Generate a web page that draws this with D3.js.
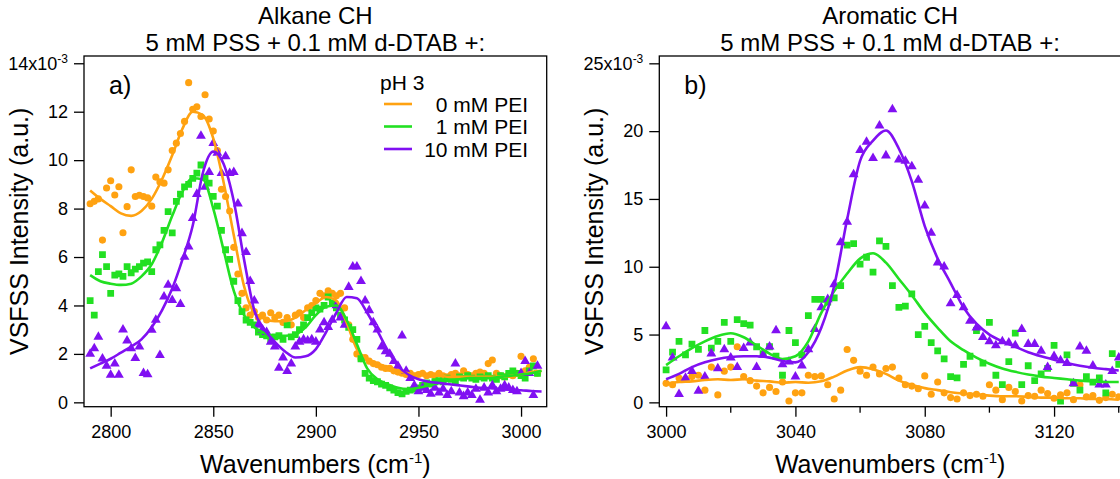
<!DOCTYPE html>
<html>
<head>
<meta charset="utf-8">
<script src="https://cdn.jsdelivr.net/npm/d3@7"></script>
<style>
    body { margin: 0; background: #fff; }
    text { font-family: Helvetica, Arial, "Liberation Sans", sans-serif; fill: #000; }
</style>
</head>
<body>
<div id="chart"></div>
<script>
// ---- panel a) alkane CH, measured points ----
const alkaneX = [
    2790, 2792, 2794, 2796, 2798, 2800, 2802, 2804, 2806, 2808,
    2810, 2812, 2814, 2816, 2818, 2820, 2822, 2824, 2826, 2828,
    2830, 2832, 2834, 2836, 2838, 2840, 2842, 2844, 2846, 2848,
    2850, 2852, 2854, 2856, 2858, 2860, 2862, 2864, 2866, 2868,
    2870, 2872, 2874, 2876, 2878, 2880, 2882, 2884, 2886, 2888,
    2890, 2892, 2894, 2896, 2898, 2900, 2902, 2904, 2906, 2908,
    2910, 2912, 2914, 2916, 2918, 2920, 2922, 2924, 2926, 2928,
    2930, 2932, 2934, 2936, 2938, 2940, 2942, 2944, 2946, 2948,
    2950, 2952, 2954, 2956, 2958, 2960, 2962, 2964, 2966, 2968,
    2970, 2972, 2974, 2976, 2978, 2980, 2982, 2984, 2986, 2988,
    2990, 2992, 2994, 2996, 2998, 3000, 3002, 3004, 3006, 3008
];
const alkane0 = [
    8.2, 8.3, 8.4, 6.7, 8.85, 9.15, 8.56, 8.9, 7.0, 8.08,
    9.6, 8.5, 8.55, 8.5, 8.44, 8.1, 9.3, 9.1, 9.05, 9.6,
    10.4, 10.7, 11.1, 11.6, 13.2, 12.1, 12.2, 11.8, 12.7, 11.7,
    11.2, 10.4, 8.8, 8.5, 7.9, 6.4, 5.3, 4.5, 3.9, 3.6,
    3.75, 3.5, 3.6, 3.4, 3.7, 3.5, 3.6, 3.3, 3.5, 3.2,
    3.6, 3.7, 3.5, 3.9, 4.0, 4.2, 4.5, 4.4, 4.6, 4.5,
    4.4, 4.5, 3.9, 3.2, 2.6, 2.0, 1.8, 1.85, 1.7, 1.6,
    1.55, 1.45, 1.4, 1.4, 1.3, 1.25, 1.2, 1.15, 1.2, 1.1,
    1.15, 1.2, 1.1, 1.15, 1.1, 1.2, 1.1, 1.05, 1.15, 1.2,
    1.1, 1.3, 1.15, 1.1, 1.2, 1.25, 1.2, 1.6, 1.75, 1.2,
    1.1, 1.05, 1.15, 1.1, 1.2, 1.9, 1.3, 1.45, 1.8, 1.2
];
const alkane1 = [
    4.2, 3.6, 5.4, 6.1, 5.6, 4.5, 5.25, 5.3, 5.2, 5.6,
    5.35, 5.5, 5.6, 5.75, 5.8, 5.4, 6.3, 6.5, 7.1, 7.87,
    7.0, 8.3, 8.6, 8.9, 9.0, 9.25, 9.46, 9.8, 9.3, 9.05,
    8.5, 8.1, 7.1, 6.3, 5.9, 5.0, 4.2, 3.75, 3.4, 3.3,
    3.2, 2.9, 2.8, 2.75, 2.6, 2.7, 2.75, 2.6, 3.2, 2.7,
    2.8, 3.0, 3.2, 3.5, 3.7, 3.9, 3.85, 4.0, 4.35, 4.1,
    3.9, 3.6, 3.4, 3.1, 3.0, 2.6, 1.8, 1.2, 1.0, 0.9,
    0.85, 0.75, 0.7, 0.6, 0.5, 0.4, 0.35, 0.45, 0.5, 0.55,
    0.6, 0.7, 0.8, 0.75, 0.85, 0.9, 0.85, 1.0, 0.95, 0.9,
    1.05, 1.0, 1.1, 1.0, 0.95, 1.05, 1.0, 1.1, 1.0, 0.95,
    1.1, 1.05, 1.2, 1.3, 1.2, 1.1, 1.0, 1.3, 1.5, 1.2
];
const alkane10 = [
    2.0, 2.23, 2.7, 1.8, 1.5, 1.13, 1.6, 1.13, 3.0, 2.55,
    2.23, 1.82, 2.3, 1.2, 1.15, 2.99, 3.4, 1.95, 4.36, 4.85,
    4.22, 4.7, 4.05, 6.0, 6.43, 7.6, 8.6, 11.0, 8.9, 9.5,
    10.7, 10.3, 9.46, 10.15, 9.46, 9.5, 8.2, 6.98, 6.2, 5.0,
    4.2, 3.2, 3.0, 2.9, 2.5, 2.3, 1.42, 1.85, 1.29, 1.6,
    2.3, 2.5, 2.6, 2.55, 2.6, 2.5, 3.0, 3.3, 3.1, 3.4,
    4.0, 3.5, 3.2, 4.76, 5.6, 5.6, 5.0, 4.2, 3.8, 3.3,
    3.0, 2.3, 2.1, 2.0, 1.7, 1.5, 2.75, 1.3, 1.0, 0.7,
    0.45, 0.6, 0.5, 0.35, 0.6, 0.4, 0.55, 0.3, 0.45, 1.6,
    0.4, 0.25, 0.4, 0.3, 0.55, 0.1, 0.6, 0.4, 0.7, 0.45,
    0.55, 0.7, 0.6, 0.5, 0.45, 1.2, 1.7, 1.2, 0.3, 1.5
];

// ---- panel a) fitted curves ----
const alkaneFitX = [
    2790, 2795, 2800, 2805, 2810, 2815, 2820, 2825, 2830, 2835,
    2840, 2845, 2850, 2855, 2860, 2865, 2870, 2875, 2880, 2885,
    2890, 2895, 2900, 2905, 2910, 2915, 2920, 2925, 2930, 2935,
    2940, 2945, 2950, 2955, 2960, 2965, 2970, 2975, 2980, 2985,
    2990, 2995, 3000, 3005, 3010
];
const alkaneFit0 = [
    8.75, 8.4, 8.1, 7.8, 7.7, 7.9, 8.4, 9.2, 10.2, 11.3,
    12.0, 11.85, 10.9, 9.1, 6.9, 4.8, 3.7, 3.45, 3.35, 3.35,
    3.5, 3.8, 4.1, 4.35, 4.2, 3.3, 2.2, 1.8, 1.6, 1.45,
    1.3, 1.2, 1.15, 1.1, 1.1, 1.05, 1.05, 1.05, 1.05, 1.05,
    1.05, 1.1, 1.15, 1.25, 1.3
];
const alkaneFit1 = [
    5.25, 5.0, 4.9, 4.85, 4.9, 5.2, 5.7, 6.6, 7.7, 8.7,
    9.25, 9.2, 8.0, 6.3, 4.6, 3.6, 3.1, 2.85, 2.75, 2.75,
    2.8, 3.1, 3.6, 3.95, 4.0, 3.4, 2.4, 1.4, 0.95, 0.75,
    0.6, 0.55, 0.6, 0.7, 0.8, 0.9, 0.95, 1.0, 1.0, 1.0,
    1.05, 1.1, 1.15, 1.2, 1.3
];
const alkaneFit10 = [
    1.4, 1.6, 1.8, 2.05, 2.3, 2.6, 3.1, 3.8, 4.7, 5.9,
    7.3, 9.5, 10.35, 9.85, 8.3, 5.9, 3.8, 3.0, 2.5, 2.1,
    1.85, 1.9, 2.2, 2.9, 3.7, 4.35, 4.3, 3.7, 2.95, 2.15,
    1.5, 1.15, 0.95, 0.85, 0.8, 0.75, 0.7, 0.65, 0.6, 0.58,
    0.55, 0.52, 0.5, 0.47, 0.45
];

// ---- panel b) aromatic CH, measured points ----
const aromaticX = [
    3000, 3002, 3004, 3006, 3008, 3010, 3012, 3014, 3016, 3018,
    3020, 3022, 3024, 3026, 3028, 3030, 3032, 3034, 3036, 3038,
    3040, 3042, 3044, 3046, 3048, 3050, 3052, 3054, 3056, 3058,
    3060, 3062, 3064, 3066, 3068, 3070, 3072, 3074, 3076, 3078,
    3080, 3082, 3084, 3086, 3088, 3090, 3092, 3094, 3096, 3098,
    3100, 3102, 3104, 3106, 3108, 3110, 3112, 3114, 3116, 3118,
    3120, 3122, 3124, 3126, 3128, 3130, 3132, 3134, 3136, 3138,
    3140
];
const aromatic0 = [
    1.4, 1.3, 1.8, 1.7, 1.9, 2.0, 0.9, 2.6, 0.55, 2.3,
    2.6, 4.1, 1.9, 1.6, 1.2, 0.7, 1.1, 0.8, 1.5, 0.1,
    0.7, 0.7, 2.0, 1.9, 1.95, 1.3, 0.25, 0.9, 3.9, 3.1,
    2.3, 2.0, 2.6, 2.1, 2.5, 2.6, 1.8, 1.3, 1.2, 1.0,
    1.95, 0.6, 1.5, 0.7, 0.35, 0.25, 0.7, 0.5, 0.6, 0.45,
    1.3, 0.9, 0.2, 1.1, 0.8, 0.1, 0.5, 0.45, 0.9, 0.65,
    0.3, 0.55, 0.7, 0.2, 1.3, 0.4, 0.5, 0.15, 0.35, 0.6,
    0.4
];
const aromatic1 = [
    2.4, 3.7, 4.5, 3.5, 4.3, 3.9, 5.3, 4.0, 4.5, 5.9,
    4.5, 6.1, 5.8, 5.7, 4.1, 3.6, 4.1, 3.4, 2.0, 5.3,
    4.4, 3.5, 6.4, 7.6, 7.6, 7.4, 7.7, 8.6, 11.6, 11.7,
    10.2, 10.7, 9.6, 11.9, 11.5, 8.6, 7.0, 7.1, 8.0, 5.0,
    5.6, 4.4, 3.8, 3.2, 1.9, 1.8, 2.8, 3.4, 5.3, 2.9,
    5.9, 2.0, 1.3, 3.0, 5.1, 1.3, 2.7, 1.6, 2.1, 2.5,
    4.2, 0.1, 3.5, 1.4, 0.9, 1.9, 1.5, 1.8, 0.7, 3.6,
    2.8
];
const aromatic10 = [
    5.6, 3.3, 0.6, 1.8, 2.3, 0.85, 1.9, 3.6, 2.5, 3.9,
    3.3, 2.6, 4.0, 4.4, 2.6, 3.5, 4.1, 5.3, 2.8, 3.0,
    1.9, 2.7, 3.9, 5.4, 7.0, 7.6, 8.7, 11.8, 13.3, 16.8,
    18.6, 19.2, 18.0, 20.4, 18.2, 21.6, 17.9, 17.8, 17.4, 16.4,
    14.5, 12.5, 10.3, 10.0, 7.3, 7.9, 7.0, 6.0, 5.5, 4.8,
    4.5, 4.2, 4.5, 4.4, 4.2, 5.4, 4.3, 4.3, 3.8, 2.6,
    3.4, 3.1, 2.9, 1.4, 4.1, 3.8, 2.7, 1.3, 1.3, 2.3,
    3.3
];

// ---- panel b) fitted curves ----
const aromaticFitX = [
    3000, 3004, 3008, 3012, 3016, 3020, 3024, 3028, 3032, 3036,
    3040, 3044, 3048, 3052, 3056, 3060, 3064, 3068, 3072, 3076,
    3080, 3084, 3088, 3092, 3096, 3100, 3104, 3108, 3112, 3116,
    3120, 3124, 3128, 3132, 3136, 3140
];
const aromaticFit0 = [
    1.4, 1.5, 1.55, 1.65, 1.7, 1.65, 1.7, 1.6, 1.55, 1.45,
    1.5, 1.45, 1.55, 1.9, 2.35, 2.6, 2.45, 2.1, 1.6, 1.3,
    1.05, 0.9, 0.75, 0.65, 0.6, 0.5, 0.45, 0.45, 0.4, 0.35,
    0.35, 0.3, 0.3, 0.25, 0.25, 0.2
];
const aromaticFit1 = [
    2.75, 3.4, 4.0, 4.5, 4.9, 5.1, 4.8, 4.2, 3.6, 3.2,
    3.4, 4.5, 6.6, 8.2, 9.5, 10.6, 11.0, 10.3, 9.1, 7.9,
    6.6, 5.5, 4.5, 3.85, 3.3, 2.85, 2.5, 2.25, 2.05, 1.9,
    1.8, 1.7, 1.6, 1.55, 1.5, 1.5
];
const aromaticFit10 = [
    1.7, 2.1, 2.6, 2.95, 3.2, 3.35, 3.4, 3.4, 3.3, 3.05,
    2.95, 3.7, 5.5, 8.6, 13.5, 17.8, 19.3, 20.05, 18.7, 16.3,
    13.0, 10.6, 8.8, 7.0, 5.8, 5.0, 4.5, 4.1, 3.7, 3.4,
    3.15, 2.9, 2.7, 2.55, 2.45, 2.35
];

const seriesNames = ['0 mM PEI', '1 mM PEI', '10 mM PEI'];
const seriesColors = ['#ffa211', '#22e022', '#8010f2'];

const alkaneXTicks = [2800, 2850, 2900, 2950, 3000];
const alkaneYTicks = [0, 2, 4, 6, 8, 10, 12, 14];
const aromaticXTicks = [3000, 3040, 3080, 3120];
const aromaticXMinor = [3020, 3060, 3100, 3140];
const aromaticYTicks = [0, 5, 10, 15, 20, 25];


class SpectrumPanel {
    constructor(svg, config) {
        this.svg = svg;
        this.config = config;
        this.initVis();
    }

    initVis() {
        let vis = this;
        let c = vis.config;

        vis.g = vis.svg.append('g').attr('class', 'panel-' + c.id);

        vis.x = d3.scaleLinear().domain(c.xDomain).range([c.left, c.right]);
        vis.y = d3.scaleLinear().domain(c.yDomain).range([c.bottom, c.top]);

        vis.g.append('clipPath')
            .attr('id', 'clip-' + c.id)
            .append('rect')
            .attr('x', c.left)
            .attr('y', c.top)
            .attr('width', c.right - c.left)
            .attr('height', c.bottom - c.top);

        // titles
        vis.g.append('text')
            .attr('x', (c.left + c.right) / 2)
            .attr('y', 24)
            .attr('text-anchor', 'middle')
            .style('font-size', '24px')
            .text(c.title);
        vis.g.append('text')
            .attr('x', (c.left + c.right) / 2)
            .attr('y', 51)
            .attr('text-anchor', 'middle')
            .style('font-size', '24px')
            .text('5 mM PSS + 0.1 mM d-DTAB +:');

        vis.drawAxes();
        vis.drawData();

        // frame
        vis.g.append('rect')
            .attr('x', c.left)
            .attr('y', c.top)
            .attr('width', c.right - c.left)
            .attr('height', c.bottom - c.top)
            .attr('fill', 'none')
            .attr('stroke', '#000')
            .attr('stroke-width', 1.3);

        vis.g.append('text')
            .attr('x', c.left + 25)
            .attr('y', 94)
            .style('font-size', '25px')
            .text(c.label);

        if (c.legend) vis.drawLegend();
    }

    drawAxes() {
        let vis = this;
        let c = vis.config;

        let xAxis = vis.g.append('g')
            .attr('transform', `translate(0,${c.bottom})`)
            .call(d3.axisBottom(vis.x).tickValues(c.xTicks).tickSize(10).tickPadding(9).tickFormat(d3.format('d')));
        xAxis.select('.domain').remove();
        xAxis.selectAll('line').attr('stroke-width', 1.3);
        xAxis.selectAll('text').style('font-size', '18px').attr('fill', '#000').style('font-family', null);

        if (c.xMinor) {
            vis.g.append('g')
                .attr('transform', `translate(0,${c.bottom})`)
                .selectAll('line')
                .data(c.xMinor)
                .enter().append('line')
                .attr('x1', d => vis.x(d))
                .attr('x2', d => vis.x(d))
                .attr('y1', 0)
                .attr('y2', 6)
                .attr('stroke', '#000')
                .attr('stroke-width', 1.3);
        }

        let yAxis = vis.g.append('g')
            .attr('transform', `translate(${c.left},0)`)
            .call(d3.axisLeft(vis.y).tickValues(c.yTicks).tickSize(10).tickPadding(6).tickFormat(d3.format('d')));
        yAxis.select('.domain').remove();
        yAxis.selectAll('line').attr('stroke-width', 1.3);
        yAxis.selectAll('text').style('font-size', '18px').attr('fill', '#000').style('font-family', null);

        // top tick carries the x10^-3 multiplier
        let top = c.yTicks[c.yTicks.length - 1];
        yAxis.selectAll('.tick text')
            .filter(d => d === top)
            .text(top + 'x10')
            .append('tspan')
            .attr('dy', '-0.55em')
            .style('font-size', '12px')
            .text('-3');

        vis.g.append('text')
            .attr('transform', `translate(${c.yTitleX},${(c.top + c.bottom) / 2}) rotate(-90)`)
            .attr('text-anchor', 'middle')
            .style('font-size', '25px')
            .text('VSFSS Intensity (a.u.)');

        let xt = vis.g.append('text')
            .attr('x', (c.left + c.right) / 2)
            .attr('y', 473)
            .attr('text-anchor', 'middle')
            .style('font-size', '25px')
            .text('Wavenumbers (cm');
        xt.append('tspan').attr('dy', '-10').style('font-size', '15px').text('-1');
        xt.append('tspan').attr('dy', '10').text(')');
    }

    drawData() {
        let vis = this;
        let c = vis.config;

        let plot = vis.g.append('g').attr('clip-path', `url(#clip-${c.id})`);

        let shapes = [
            d3.symbol(d3.symbolCircle, 40),
            d3.symbol(d3.symbolSquare, 46),
            d3.symbol(d3.symbolTriangle, 42)
        ];

        c.points.forEach((values, i) => {
            plot.append('g')
                .attr('class', 'points-' + i)
                .selectAll('path')
                .data(values.map((v, k) => ({x: c.xs[k], v: v})))
                .enter().append('path')
                .attr('d', shapes[i])
                .attr('transform', d => `translate(${vis.x(d.x)},${vis.y(d.v)})`)
                .attr('fill', seriesColors[i]);
        });

        let line = d3.line()
            .x(d => vis.x(d.x))
            .y(d => vis.y(d.v))
            .curve(d3.curveMonotoneX);

        c.fits.forEach((values, i) => {
            plot.append('path')
                .datum(values.map((v, k) => ({x: c.fitX[k], v: v})))
                .attr('d', line)
                .attr('fill', 'none')
                .attr('stroke', seriesColors[i])
                .attr('stroke-width', 2.6)
                .attr('stroke-linejoin', 'round');
        });
    }

    drawLegend() {
        let vis = this;

        let legend = vis.g.append('g').attr('class', 'legend');

        legend.append('text')
            .attr('x', 380)
            .attr('y', 90)
            .style('font-size', '21px')
            .text('pH 3');

        seriesNames.forEach((name, i) => {
            let yy = 104 + i * 22.5;
            legend.append('line')
                .attr('x1', 384)
                .attr('x2', 412)
                .attr('y1', yy)
                .attr('y2', yy)
                .attr('stroke', seriesColors[i])
                .attr('stroke-width', 2.6);
            legend.append('text')
                .attr('x', 528)
                .attr('y', yy + 7.5)
                .attr('text-anchor', 'end')
                .style('font-size', '21px')
                .text(name);
        });
    }
}

const svg = d3.select('#chart')
    .append('svg')
    .attr('width', 1120)
    .attr('height', 479);

new SpectrumPanel(svg, {
    id: 'a',
    title: 'Alkane CH',
    label: 'a)',
    left: 84, right: 546.7, top: 56, bottom: 406.7,
    xDomain: [2787, 3012.5], yDomain: [-0.18, 14.3],
    xTicks: alkaneXTicks, yTicks: alkaneYTicks,
    yTitleX: 28,
    xs: alkaneX,
    points: [alkane0, alkane1, alkane10],
    fitX: alkaneFitX,
    fits: [alkaneFit0, alkaneFit1, alkaneFit10],
    legend: true
});

new SpectrumPanel(svg, {
    id: 'b',
    title: 'Aromatic CH',
    label: 'b)',
    left: 659.3, right: 1121, top: 56, bottom: 406.7,
    xDomain: [2997.9, 3140.7], yDomain: [-0.32, 25.54],
    xTicks: aromaticXTicks, xMinor: aromaticXMinor, yTicks: aromaticYTicks,
    yTitleX: 603,
    xs: aromaticX,
    points: [aromatic0, aromatic1, aromatic10],
    fitX: aromaticFitX,
    fits: [aromaticFit0, aromaticFit1, aromaticFit10],
    legend: false
});
</script>
</body>
</html>
